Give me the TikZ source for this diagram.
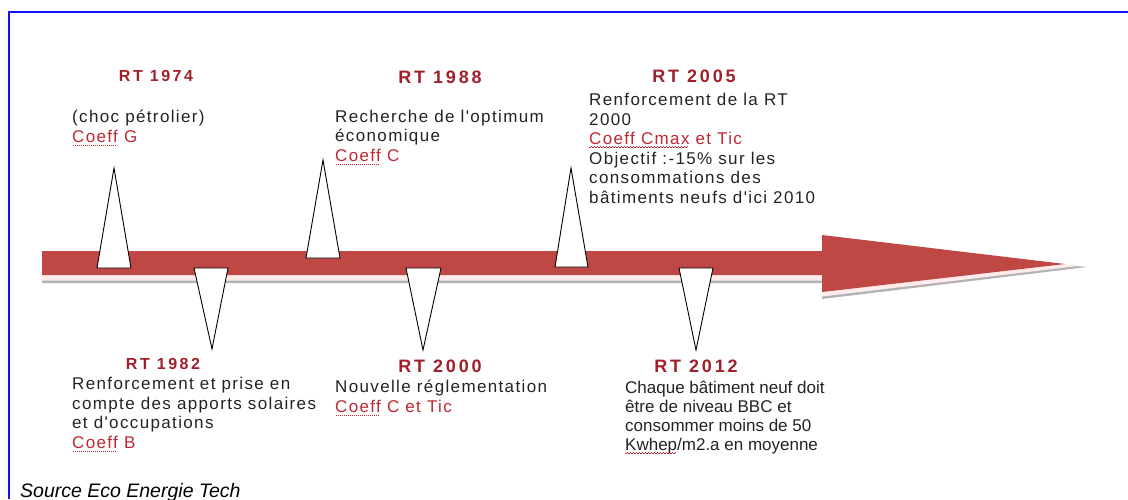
\documentclass[tikz,border=0pt]{standalone}
\usepackage{fontspec}
\setmainfont{Liberation Sans}
\usetikzlibrary{positioning}
\definecolor{rtRouge}{RGB}{160,32,42}
\definecolor{coeffRouge}{RGB}{190,40,50}
\definecolor{flecheRouge}{RGB}{192,72,68}
\definecolor{texteGris}{RGB}{35,35,35}
\definecolor{cadreBleu}{RGB}{20,20,240}

\newfontfamily\espace[LetterSpace=8]{Liberation Sans}
\newfontfamily\titrefont[LetterSpace=16]{Liberation Sans}

% soulignements du correcteur
\newsavebox\motbox
\newcommand\pointille[1]{\sbox\motbox{#1}\rlap{\lower2.5pt\hbox to \wd\motbox{\leaders\hbox to 2pt{\hss\vrule width 0.9pt height 0pt depth 0.9pt\hss}\hfill}}#1}
\newcommand\ondule[1]{\sbox\motbox{#1}\rlap{\lower3pt\hbox to \wd\motbox{\color{coeffRouge}\leaders\hbox to 3pt{\vrule width 1.5pt height 0.3pt depth 0.3pt\raise1pt\hbox{\vrule width 1.5pt height 0.3pt depth 0.3pt}}\hfill}}#1}
\newcommand\coeff[1]{\textcolor{coeffRouge}{#1}}

\begin{document}
\begin{tikzpicture}[x=1pt, y=-1pt,
        titre/.style={anchor=base, inner sep=0pt, text=rtRouge, font=\titrefont\bfseries\fontsize{18}{20}\selectfont},
        texte/.style={anchor=base west, align=left, inner sep=0pt, text=texteGris, font=\espace\fontsize{17}{19.5}\selectfont},
        pointe/.style={draw=black, fill=white, line width=0.9pt}]

    \useasboundingbox (0,0) rectangle (1128,499);
    \draw[cadreBleu, line width=1.6pt] (9,499) -- (9,12) -- (1128,12);

    % fleche du temps
    \fill[gray!60] (42,258) -- (822,258) -- (822,242) -- (1087,267) -- (822,299) -- (822,283) -- (42,283) -- cycle;
    \fill[red!8] (42,256) -- (822,256) -- (822,240) -- (1078,266) -- (822,296.5) -- (822,280.5) -- (42,280.5) -- cycle;
    \fill[flecheRouge] (42,251) -- (822,251) -- (822,235) -- (1065,264) -- (822,292) -- (822,275) -- (42,275) -- cycle;

    % reperes
    \draw[pointe] (97,268) -- (114,168) -- (131,268) -- cycle;
    \draw[pointe] (306,258) -- (323,160) -- (340,258) -- cycle;
    \draw[pointe] (555,267) -- (571,168) -- (588,267) -- cycle;
    \draw[pointe] (194,268) -- (212,349) -- (228,268) -- cycle;
    \draw[pointe] (406,268) -- (423,350) -- (441,268) -- cycle;
    \draw[pointe] (679,268) -- (696,350) -- (713,268) -- cycle;

    % textes (base = derniere ligne)
    \node[titre, font=\titrefont\bfseries\fontsize{16}{18}\selectfont] (rt74) at (156,81) {RT 1974};
    \node[texte] (t74) at (72,142) {(choc pétrolier)\\\coeff{\pointille{Coeff} G}};

    \node[titre] (rt88) at (440,83) {RT 1988};
    \node[texte] (t88) at (335,161) {Recherche de l'optimum\\économique\\\coeff{\pointille{Coeff} C}};

    \node[titre] (rt05) at (694,82) {RT 2005};
    \node[texte] (t05) at (589,203) {Renforcement de la RT\\2000\\\coeff{\ondule{Coeff Cmax} et Tic}\\Objectif :-15\% sur les\\consommations des\\bâtiments neufs d'ici 2010};

    \node[titre, font=\titrefont\bfseries\fontsize{16}{18}\selectfont] (rt82) at (163,369) {RT 1982};
    \node[texte] (t82) at (72,448) {Renforcement et prise en\\compte des apports solaires\\et d'occupations\\\coeff{\pointille{Coeff} B}};

    \node[titre] (rt00) at (440,372) {RT 2000};
    \node[texte] (t00) at (335,412) {Nouvelle réglementation\\\coeff{\pointille{Coeff} C et Tic}};

    \node[titre] (rt12) at (696,372) {RT 2012};
    \node[texte, font=\fontsize{17}{19}\selectfont] (t12) at (625,450) {Chaque bâtiment neuf doit\\être de niveau BBC et\\consommer moins de 50\\\ondule{Kwhep}/m2.a en moyenne};

    \node[anchor=base west, inner sep=0pt, font=\itshape\fontsize{19.5}{22}\selectfont] (source) at (20,497) {Source Eco Energie Tech};
\end{tikzpicture}
\end{document}
